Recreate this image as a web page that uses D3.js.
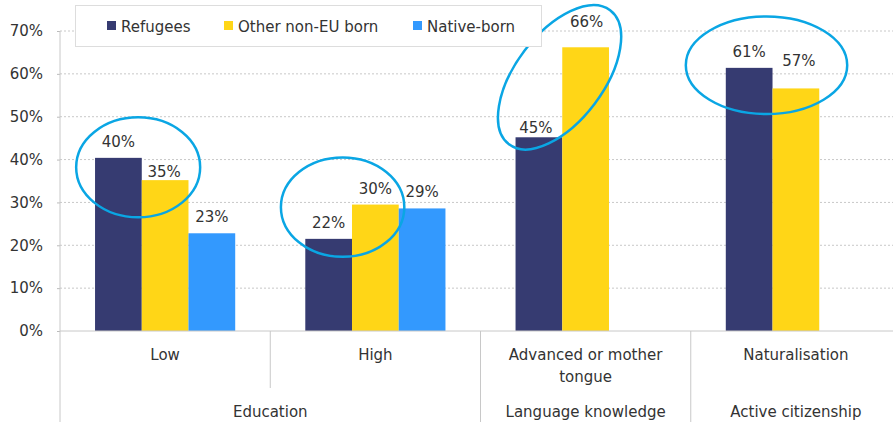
<!DOCTYPE html>
<html>
<head>
<meta charset="utf-8">
<script src="https://cdn.jsdelivr.net/npm/d3@7"></script>
<style>
  body { margin: 0; background: #fff; }
  svg { display: block; font-family: "DejaVu Sans", sans-serif; }
</style>
</head>
<body>
<div id="chart"></div>
<script>
// chart values (percent)
const categories = ["Low", "High", "Advanced or mother tongue", "Naturalisation"];
const groupLabels = ["Education", "Language knowledge", "Active citizenship"];
const groupSpans = [2, 1, 1];
const seriesNames = ["Refugees", "Other non-EU born", "Native-born"];
const refugees = [40.4, 21.5, 45.2, 61.4];
const otherNonEU = [35.2, 29.5, 66.2, 56.6];
const nativeBorn = [22.8, 28.6, null, null];
const yTicks = [0, 10, 20, 30, 40, 50, 60, 70];

const colors = ["#363b71", "#ffd617", "#3399fe"];
const textColor = "#333";
const width = 893, height = 422;

// the plot runs a bit past the right edge of the picture
const x = d3.scaleBand().domain(categories).range([60, 901]);
const xs = d3.scaleBand().domain(seriesNames).range([0, x.bandwidth()]).paddingOuter(0.75);
const y = d3.scaleLinear().domain([0, 70]).range([331, 31]);

const svg = d3.select("#chart").append("svg")
  .attr("width", width)
  .attr("height", height);

// gridlines
svg.append("g")
  .selectAll("line")
  .data(yTicks.filter(d => d > 0))
  .enter().append("line")
    .attr("x1", 60).attr("x2", width)
    .attr("y1", d => y(d)).attr("y2", d => y(d))
    .attr("stroke", "#c8c8c8")
    .attr("stroke-dasharray", "2,2");

// y axis
const yAxis = svg.append("g")
  .attr("transform", "translate(60,0)")
  .call(d3.axisLeft(y).tickValues(yTicks).tickSize(3).tickPadding(14).tickFormat(d => d + "%"));
yAxis.select(".domain").remove();
yAxis.selectAll("line").attr("stroke", "#bbb");
yAxis.selectAll("text")
  .attr("fill", textColor)
  .style("font-size", "15px")
  .style("font-family", "DejaVu Sans, sans-serif");

svg.append("line")
  .attr("x1", 60).attr("x2", 60)
  .attr("y1", y(70)).attr("y2", height)
  .attr("stroke", "#c8c8c8");

// bars
const seriesData = [refugees, otherNonEU, nativeBorn];
const bars = [];
seriesData.forEach((vals, si) => {
  vals.forEach((v, ci) => {
    if (v !== null) bars.push({ cat: categories[ci], series: seriesNames[si], si: si, value: v });
  });
});

svg.append("g")
  .selectAll("rect")
  .data(bars)
  .enter().append("rect")
    .attr("x", d => x(d.cat) + xs(d.series))
    .attr("y", d => y(d.value))
    .attr("width", xs.bandwidth())
    .attr("height", d => y(0) - y(d.value))
    .attr("fill", d => colors[d.si]);

// baseline
svg.append("line")
  .attr("x1", 60).attr("x2", width)
  .attr("y1", y(0)).attr("y2", y(0))
  .attr("stroke", "#c8c8c8");

// value labels, a few are nudged like in the original
const labelNudge = {
  "Low|Other non-EU born": [-1, 8],
  "Advanced or mother tongue|Refugees": [-3, 6.5],
  "Advanced or mother tongue|Other non-EU born": [1, -9.5],
  "Naturalisation|Other non-EU born": [3, -11]
};
svg.append("g")
  .selectAll("text")
  .data(bars)
  .enter().append("text")
    .attr("x", d => x(d.cat) + xs(d.series) + xs.bandwidth() / 2 + (labelNudge[d.cat + "|" + d.series] || [0, 0])[0])
    .attr("y", d => y(d.value) - 11 + (labelNudge[d.cat + "|" + d.series] || [0, 0])[1])
    .attr("text-anchor", "middle")
    .attr("fill", textColor)
    .style("font-size", "15px")
    .text(d => Math.round(d.value) + "%");

// category labels
const catText = svg.append("g")
  .selectAll("text")
  .data(categories)
  .enter().append("text")
    .attr("x", d => x(d) + x.bandwidth() / 2)
    .attr("y", 360)
    .attr("text-anchor", "middle")
    .attr("fill", textColor)
    .style("font-size", "15px");
catText.each(function(d) {
  const lines = d === "Advanced or mother tongue" ? ["Advanced or mother", "tongue"] : [d];
  const t = d3.select(this);
  lines.forEach((l, i) => {
    t.append("tspan")
      .attr("x", x(d) + x.bandwidth() / 2)
      .attr("dy", i === 0 ? 0 : 21.7)
      .text(l);
  });
});

// group labels and separators
let start = 0;
groupLabels.forEach((g, i) => {
  const x0 = x(categories[start]);
  const x1 = x(categories[start + groupSpans[i] - 1]) + x.bandwidth();
  svg.append("text")
    .attr("x", (x0 + x1) / 2)
    .attr("y", 417)
    .attr("text-anchor", "middle")
    .attr("fill", textColor)
    .style("font-size", "15px")
    .text(g);
  if (i > 0) {
    svg.append("line")
      .attr("x1", x0).attr("x2", x0)
      .attr("y1", y(0)).attr("y2", height)
      .attr("stroke", "#c8c8c8");
  }
  for (let k = 1; k < groupSpans[i]; k++) {
    const xm = x(categories[start + k]);
    svg.append("line")
      .attr("x1", xm).attr("x2", xm)
      .attr("y1", y(0)).attr("y2", 388)
      .attr("stroke", "#c8c8c8");
  }
  start += groupSpans[i];
});

// highlight ellipses around refugees vs other non-EU pairs
const highlights = [
  { cat: "Low", at: 38.2, dx: -3.6, rx: 62, ry: 50, rot: 0 },
  { cat: "High", at: 28.9, dx: -9.4, rx: 61.7, ry: 49.7, rot: 0 },
  { cat: "Advanced or mother tongue", at: 59.2, dx: -2.7, rx: 84, ry: 44, rot: -53 },
  { cat: "Naturalisation", at: 62, dx: -6, rx: 80.7, ry: 48.8, rot: 0 }
];
svg.append("g")
  .selectAll("ellipse")
  .data(highlights)
  .enter().append("ellipse")
    .attr("transform", d => `translate(${x(d.cat) + xs("Other non-EU born") + d.dx},${y(d.at)}) rotate(${d.rot})`)
    .attr("rx", d => d.rx)
    .attr("ry", d => d.ry)
    .attr("fill", "none")
    .attr("stroke", "#0aa6e4")
    .attr("stroke-width", 2.5);

// legend
const legend = svg.append("g");
legend.append("rect")
  .attr("x", 75.5).attr("y", 5.5)
  .attr("width", 466).attr("height", 41)
  .attr("fill", "#fff")
  .attr("stroke", "#ddd");
const legendX = [107, 224, 413];
seriesNames.forEach((s, i) => {
  legend.append("rect")
    .attr("x", legendX[i]).attr("y", 21)
    .attr("width", 9).attr("height", 9)
    .attr("fill", colors[i]);
  legend.append("text")
    .attr("x", legendX[i] + 14)
    .attr("y", 31.5)
    .attr("fill", textColor)
    .style("font-size", "15px")
    .text(s);
});
</script>
</body>
</html>
